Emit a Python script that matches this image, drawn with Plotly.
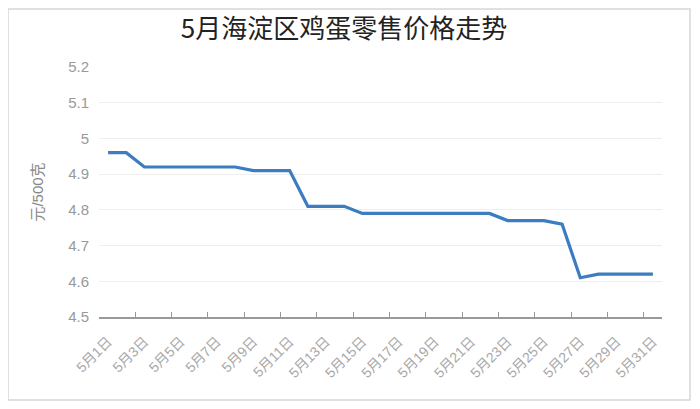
import plotly.graph_objects as go

days = [f"5月{d}日" for d in range(1, 32)]
prices = [4.96, 4.96,
          4.92, 4.92, 4.92, 4.92, 4.92, 4.92,
          4.91, 4.91, 4.91,
          4.81, 4.81, 4.81,
          4.79, 4.79, 4.79, 4.79, 4.79, 4.79, 4.79, 4.79,
          4.77, 4.77, 4.77,
          4.76,
          4.61,
          4.62, 4.62, 4.62, 4.62]
y_ticks = [4.5, 4.6, 4.7, 4.8, 4.9, 5.0, 5.1, 5.2]
y_ticklabels = ["4.5", "4.6", "4.7", "4.8", "4.9", "5", "5.1", "5.2"]

FONT = "Liberation Sans, Noto Sans CJK SC, sans-serif"

# page shows the figure with an 8px body margin; positions below are figure px
OFF = 8
W, H = 700, 409
L = 99 - OFF
T = 67 - OFF
R = W - (662 - OFF)
B = H - (317 - OFF)
pw, ph = W - L - R, H - T - B

def px_to_paper_x(px):
    return (px - OFF - L) / pw

def py_to_paper_y(py):
    return (H - B - (py - OFF)) / ph

fig = go.Figure()
fig.add_trace(go.Scatter(
    x=days, y=prices, mode="lines",
    line=dict(color="#3c7cc0", width=3.2),
    hoverinfo="x+y", showlegend=False,
))

fig.update_layout(
    width=W, height=H,
    margin=dict(l=L, r=R, t=T, b=B),
    paper_bgcolor="white", plot_bgcolor="white",
    font=dict(family=FONT, color="#999999"),
    title=dict(text="5月海淀区鸡蛋零售价格走势", xref="container", x=(344 - OFF) / W,
               xanchor="center", yref="container", y=1 - (29 - OFF) / H, yanchor="middle",
               font=dict(size=26, color="#222222", family="Noto Sans CJK SC, sans-serif")),
    xaxis=dict(
        type="category", categoryorder="array", categoryarray=days,
        range=[-0.5, 30.5], dtick=2, tickson="boundaries",
        ticks="inside", ticklen=5, tickcolor="#999999", tickwidth=1,
        showline=True, linecolor="#999999", linewidth=1.5,
        showgrid=False, zeroline=False, ticklabelstandoff=9,
        tickangle=-45, tickfont=dict(size=14, color="#a8a8a8"),
    ),
    yaxis=dict(
        range=[4.5, 5.2], tickvals=y_ticks, ticktext=y_ticklabels,
        showgrid=True, gridcolor="#eeeeee", gridwidth=1,
        zeroline=False, showline=False, ticks="", ticklabelstandoff=9,
        tickfont=dict(size=15, color="#999999"),
        title=dict(text="元/500克", font=dict(size=15, color="#888888"), standoff=20),
    ),
    shapes=[dict(
        type="rect", xref="paper", yref="paper",
        x0=px_to_paper_x(8), x1=px_to_paper_x(690),
        y0=py_to_paper_y(400), y1=py_to_paper_y(9),
        line=dict(color="#d6d6d6", width=1.5), fillcolor="rgba(0,0,0,0)", layer="below",
    )],
)

fig.write_html("out.html")
